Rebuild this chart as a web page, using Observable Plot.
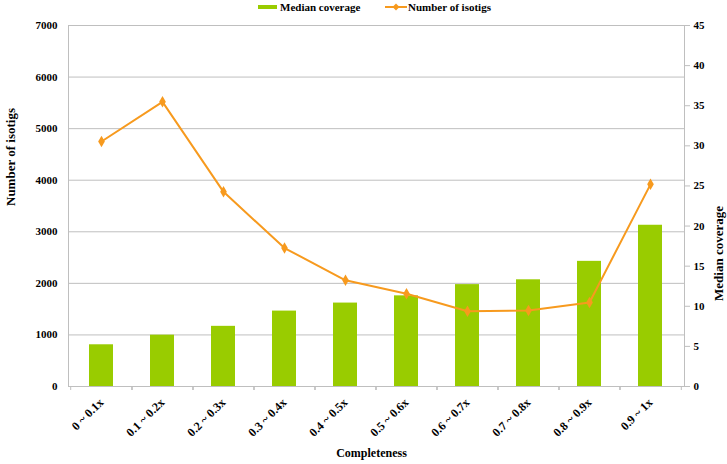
<!DOCTYPE html>
<html>
<head>
<meta charset="utf-8">
<script src="https://cdn.jsdelivr.net/npm/d3@7"></script>
<script src="https://cdn.jsdelivr.net/npm/@observablehq/plot@0.6"></script>
<style>
  body { margin: 0; background: #fff; }
  #wrap { position: relative; width: 727px; height: 464px; font-family: 'Liberation Serif', 'Times New Roman', serif; font-weight: bold; }
  .lg { position: absolute; top: 0; font-size: 11px; line-height: 14px; color: #000; white-space: nowrap; }
</style>
</head>
<body>
<div id="wrap">
  <div id="chart"></div>
  <div class="lg" style="left:258px;"><span style="display:inline-block;width:19px;height:4px;background:#99CC00;vertical-align:middle;margin-right:3px;position:relative;top:-1px;"></span>Median coverage</div>
  <div class="lg" style="left:385px;"><svg width="22" height="10" style="vertical-align:middle;margin-right:1px;position:relative;top:-1px;"><line x1="0" y1="5" x2="22" y2="5" stroke="#F79A1E" stroke-width="2"/><path d="M11,1.5 L14.5,5 L11,8.5 L7.5,5 Z" fill="#F79A1E"/></svg>Number of isotigs</div>
</div>
<script>
const categories = ["0 ~ 0.1x", "0.1 ~ 0.2x", "0.2 ~ 0.3x", "0.3 ~ 0.4x", "0.4 ~ 0.5x", "0.5 ~ 0.6x", "0.6 ~ 0.7x", "0.7 ~ 0.8x", "0.8 ~ 0.9x", "0.9 ~ 1x"];
const isotigs = [4750, 5520, 3775, 2685, 2060, 1800, 1460, 1475, 1630, 3920];
const coverage = [5.2, 6.4, 7.5, 9.4, 10.4, 11.3, 12.7, 13.3, 15.6, 20.1];
const leftTicks = [0, 1000, 2000, 3000, 4000, 5000, 6000, 7000];
const rightTicks = [0, 5, 10, 15, 20, 25, 30, 35, 40, 45];

const W = 727, H = 464;
const ml = 68, mr = 43, mt = 25, mb = 78;
const yMax = 7000, covMax = 45;
const k = yMax / covMax;
const step = (W - ml - mr) / categories.length;

const rows = categories.map((c, i) => ({c, isotigs: isotigs[i], coverage: coverage[i]}));
const orange = "#F79A1E", green = "#99CC00", gray = "#BFBFBF";

const chart = Plot.plot({
  width: W, height: H,
  marginLeft: ml, marginRight: mr, marginTop: mt, marginBottom: mb,
  style: {fontFamily: "'Liberation Serif', 'Times New Roman', serif", fontWeight: "bold", fontSize: "11px", color: "#000", background: "white"},
  x: {domain: categories, paddingInner: 0.6, paddingOuter: 0.3},
  y: {domain: [0, yMax]},
  marks: [
    Plot.gridY({ticks: leftTicks, stroke: gray, strokeOpacity: 1}),
    Plot.frame({stroke: gray}),
    Plot.barY(rows, {x: "c", y: d => d.coverage * k, fill: green}),
    Plot.line(rows, {x: "c", y: "isotigs", stroke: orange, strokeWidth: 2}),
    Plot.dot(rows, {x: "c", y: "isotigs", symbol: "diamond", r: 3.5, fill: orange}),
    Plot.axisY({anchor: "left", ticks: leftTicks, tickSize: 0, tickPadding: 11, label: null, tickFormat: d => String(d)}),
    Plot.axisY({anchor: "right", ticks: rightTicks.map(v => v * k), tickFormat: d => String(Math.round(d / k)), tickSize: 5, tickPadding: 4, stroke: gray, label: null}),
    Plot.axisX({tickSize: 0, tickRotate: -45, tickPadding: 14, fontSize: 12, label: null}),
    Plot.axisX({tickSize: 4, tickFormat: () => "", dx: -step / 2, stroke: gray, label: null}),
    Plot.axisX({tickSize: 4, tickFormat: () => "", dx: step / 2, stroke: gray, label: null}),
    Plot.text(["Number of isotigs"], {text: d => d, frameAnchor: "left", rotate: -90, dx: -58, fontSize: 13, fontWeight: "bold"}),
    Plot.text(["Median coverage"], {text: d => d, frameAnchor: "right", rotate: -90, dx: 34, fontSize: 13, fontWeight: "bold"}),
    Plot.text(["Completeness"], {text: d => d, frameAnchor: "bottom", dy: 70, dx: -5, fontSize: 12, fontWeight: "bold"})
  ]
});
document.getElementById("chart").appendChild(chart);
</script>
</body>
</html>
